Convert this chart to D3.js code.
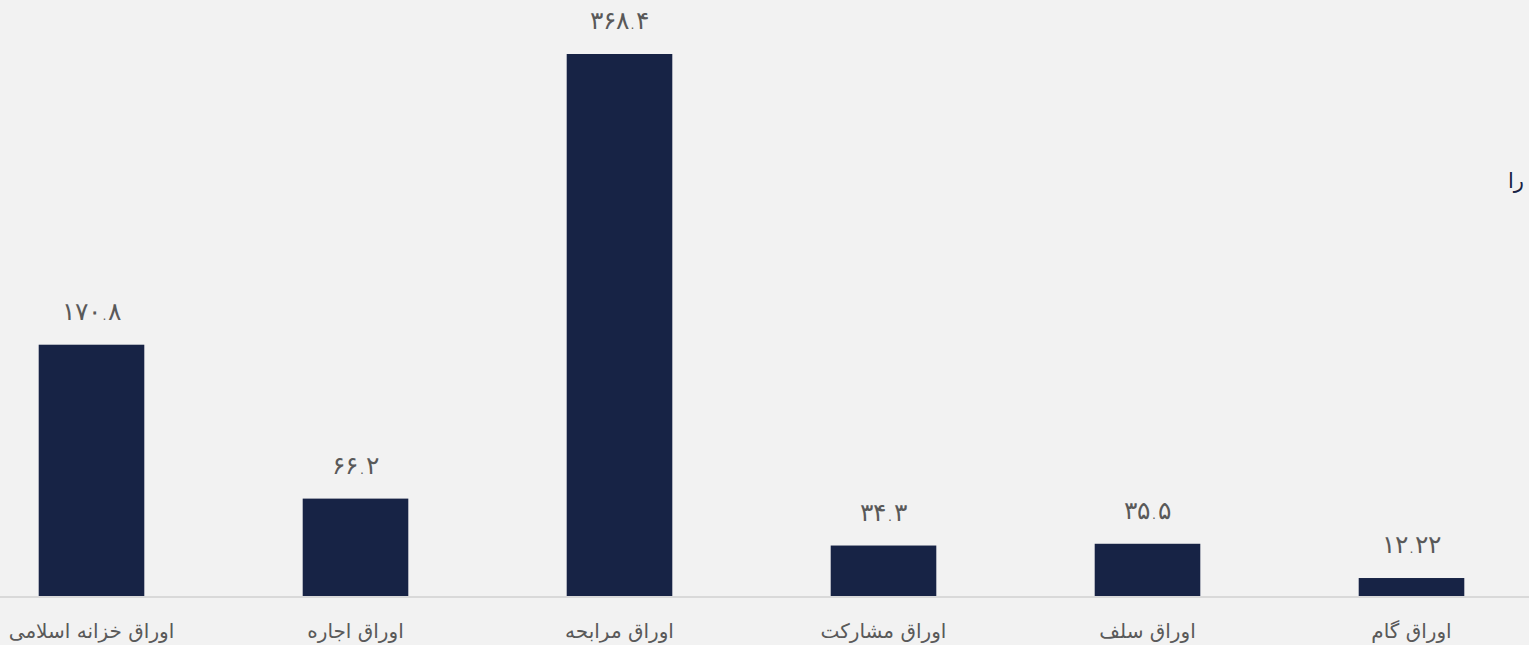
<!DOCTYPE html>
<html>
<head>
<meta charset="utf-8">
<script src="https://cdn.jsdelivr.net/npm/d3@7"></script>
<style>
  html, body { margin: 0; padding: 0; background: #f2f2f2; overflow: hidden; }
  text { font-family: "DejaVu Sans", "Noto Sans", sans-serif; }
</style>
</head>
<body>
<div id="vis"></div>
<script>
// ── DATA ───────────────────────────────────────────────────────────────────────
const categories = ["اوراق خزانه اسلامی", "اوراق اجاره", "اوراق مرابحه", "اوراق مشارکت", "اوراق سلف", "اوراق گام"];
const values     = [170.8, 66.2, 368.4, 34.3, 35.5, 12.22];
const stray      = "را";   // leftover text at the right edge

// ── CONFIG ─────────────────────────────────────────────────────────────────────
const width   = 1529;
const height  = 645;
const baseY   = 596;
const barFill = "#172345";
const txtFill = "#595959";

const toFa = s => String(s).replace(/[0-9]/g, d => "۰۱۲۳۴۵۶۷۸۹"[d]);

const svg = d3.select("#vis").append("svg")
    .attr("width", width)
    .attr("height", height)
    .style("display", "block");

svg.append("rect").attr("width", width).attr("height", height).attr("fill", "#f2f2f2");

const x = d3.scaleBand()
    .domain(categories)
    .range([-40.5, 1543.5])
    .paddingInner(0.6)
    .paddingOuter(0.3);

const y = d3.scaleLinear([0, 400], [baseY, baseY - 400 * 542 / 368.4]);

const data = categories.map((c, i) => ({ name: c, value: values[i] }));

// bars
svg.append("g").selectAll("rect")
  .data(data)
  .join("rect")
    .attr("x", d => x(d.name))
    .attr("width", x.bandwidth())
    .attr("y", d => y(d.value))
    .attr("height", d => y(0) - y(d.value))
    .attr("fill", barFill);

// baseline
svg.append("line")
    .attr("x1", 0).attr("x2", width)
    .attr("y1", y(0) + 1).attr("y2", y(0) + 1)
    .attr("stroke", "#d9d9d9")
    .attr("stroke-width", 2);

// value labels
svg.append("g").selectAll("text")
  .data(data)
  .join("text")
    .attr("x", d => x(d.name) + x.bandwidth() / 2)
    .attr("y", d => y(d.value) - 25)
    .attr("text-anchor", "middle")
    .attr("fill", txtFill)
    .style("font-size", "25px")
    .style("font-weight", "300")
    .text(d => toFa(d.value));

// category labels
const xAxis = d3.axisBottom(x).tickSize(0).tickPadding(28);
svg.append("g")
    .attr("transform", `translate(0,${baseY})`)
    .call(xAxis)
    .call(g => g.select(".domain").remove())
    .call(g => g.selectAll("text")
      .attr("fill", txtFill)
      .style("font-size", "20px")
      .style("font-family", "DejaVu Sans, sans-serif"));

// stray text at right
svg.append("text")
    .attr("x", 1524)
    .attr("y", 188)
    .attr("text-anchor", "end")
    .attr("fill", barFill)
    .style("font-size", "21px")
    .text(stray);
</script>
</body>
</html>
